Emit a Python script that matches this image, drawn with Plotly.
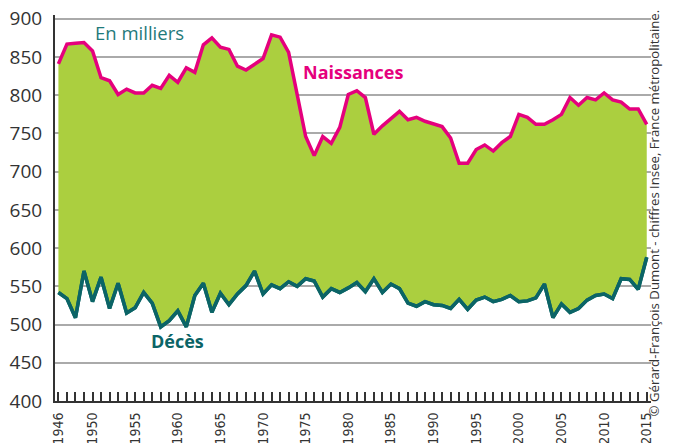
import plotly.graph_objects as go

years = list(range(1946, 2016))

# Naissances (milliers)
births = [841, 867, 868, 869, 858, 823, 819, 801, 808, 803,
          803, 813, 809, 826, 817, 836, 830, 866, 875, 863,
          860, 838, 833, 841, 848, 879, 876, 856, 801, 746,
          721, 746, 737, 758, 801, 806, 797, 749, 760, 769,
          779, 768, 771, 766, 762, 759, 744, 711, 711, 729,
          735, 727, 738, 746, 775, 771, 762, 762, 768, 775,
          797, 787, 797, 794, 803, 794, 791, 782, 782, 762]

# Décès (milliers)
deaths = [542, 534, 509, 570, 530, 562, 521, 554, 515, 522,
          542, 528, 497, 505, 518, 497, 538, 554, 516, 541,
          526, 540, 551, 570, 540, 552, 547, 556, 550, 560,
          557, 536, 547, 542, 548, 555, 543, 560, 542, 553,
          547, 528, 524, 530, 526, 525, 521, 533, 520, 532,
          536, 530, 533, 538, 530, 531, 535, 553, 509, 527,
          516, 521, 532, 538, 540, 534, 560, 559, 546, 588]

label_years = [1946, 1950, 1955, 1960, 1965, 1970, 1975, 1980, 1985,
               1990, 1995, 2000, 2005, 2010, 2015]
tick_text = [str(y) if y in label_years else '' for y in years]

green = '#abcf3f'
magenta = '#e5007d'
teal = '#0b6466'

fig = go.Figure()

fig.add_trace(go.Scatter(
    x=years, y=deaths, mode='lines',
    line=dict(color=teal, width=3.5),
    hoverinfo='skip', showlegend=False
))

fig.add_trace(go.Scatter(
    x=years, y=births, mode='lines',
    line=dict(color=magenta, width=3.5),
    fill='tonexty', fillcolor=green,
    hoverinfo='skip', showlegend=False
))

# redraw deaths line on top of the fill
fig.add_trace(go.Scatter(
    x=years, y=deaths, mode='lines',
    line=dict(color=teal, width=3.5),
    hoverinfo='skip', showlegend=False
))

# the page body adds an 8px offset, margins compensate for it
fig.update_layout(
    width=677, height=443,
    margin=dict(l=47, r=34, t=6.5, b=50),
    plot_bgcolor='white', paper_bgcolor='white',
    font=dict(family='Open Sans, DejaVu Sans', color='#333333'),
    xaxis=dict(
        range=[1945.6, 2015.5],
        tickvals=years, ticktext=tick_text,
        tickangle=-90,
        ticks='inside', ticklen=9, tickwidth=1.5, tickcolor='#333333',
        showline=True, linecolor='#333333', linewidth=2,
        showgrid=False, zeroline=False, automargin=False,
        ticklabelstandoff=4, ticklabeloverflow='allow',
        tickfont=dict(family='Liberation Sans Narrow, DejaVu Sans Condensed', size=14, color='#333333'),
    ),
    yaxis=dict(
        range=[400, 905],
        tickvals=[400, 450, 500, 550, 600, 650, 700, 750, 800, 850, 900],
        showline=True, linecolor='#333333', linewidth=2,
        showgrid=True, gridcolor='#aaaaaa', gridwidth=1.5,
        zeroline=False, ticks='', automargin=False,
        ticklabelstandoff=7, ticklabeloverflow='allow',
        tickfont=dict(size=19, color='#333333'),
    ),
)

# top gridline (900), drawn as a shape so it is sure to show
fig.add_shape(type='line', xref='paper', x0=0, x1=1, yref='y', y0=900, y1=900,
              line=dict(color='#aaaaaa', width=1.5), layer='above')

fig.add_annotation(x=1950.1, y=882, text='En milliers', showarrow=False,
                   xanchor='left', font=dict(size=18.5, color='#1f7a7a'))
fig.add_annotation(x=1974.4, y=830, text='<b>Naissances</b>', showarrow=False,
                   xanchor='left', font=dict(size=18, color=magenta))
fig.add_annotation(x=1956.6, y=478, text='<b>Décès</b>', showarrow=False,
                   xanchor='left', font=dict(size=18, color=teal))
fig.add_annotation(x=1.0, y=0.486, xref='paper', yref='paper', xshift=14,
                   text='© Gérard-François Dumont - chiffres Insee, France métropolitaine.',
                   textangle=-90, showarrow=False,
                   font=dict(size=13.2, color='#333333'))

fig.write_html("out.html")
